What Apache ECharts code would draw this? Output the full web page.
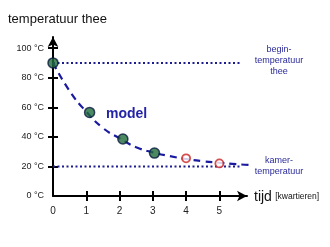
<!DOCTYPE html>
<html><head><meta charset="utf-8">
<script src="https://cdn.jsdelivr.net/npm/echarts@6/dist/echarts.min.js"></script>
<style>html,body{margin:0;padding:0;background:#fff}#c{width:330px;height:247px}</style>
</head><body><div id="c"></div>
<script>
const xTicks = [0, 1, 2, 3, 4, 5];
const yTicks = [0, 20, 40, 60, 80, 100];
const measured = [[0, 90], [1.1, 56.5], [2.1, 38.5], [3.05, 29]];
const predicted = [[4, 25.5], [5, 22]];
const modelCurve = [[0, 90], [0.5, 71], [1, 57], [1.5, 46], [2, 39], [2.5, 33], [3, 29.5], [3.5, 27], [4, 25], [4.5, 23.5], [5, 22.5], [5.5, 21.5], [5.97, 21]];
const beginTemp = [[0, 90], [5.65, 90]];
const roomTemp = [[0, 20], [5.65, 20]];

const chart = echarts.init(document.getElementById('c'));
const navy = '#1c1c8f';
const tickStyle = {color: '#000', width: 2};
chart.setOption({
  animation: false,
  grid: {left: 53, right: 83, top: 37, bottom: 51},
  xAxis: [
    {type: 'value', min: 0, max: 5.83, splitLine: {show: false},
      axisLine: {show: true, symbol: ['none', 'arrow'], symbolSize: [8, 10], lineStyle: {color: '#000', width: 2}},
      axisTick: {show: true, length: 5, lineStyle: tickStyle, customValues: [1, 2, 3, 4, 5]},
      axisLabel: {fontSize: 10, color: '#222', margin: 10, fontFamily: 'Liberation Sans', customValues: xTicks}
    },
    {type: 'value', min: 0, max: 5.83, position: 'bottom', splitLine: {show: false},
      axisLine: {show: false},
      axisTick: {show: true, inside: true, length: 5, lineStyle: tickStyle, customValues: [1, 2, 3, 4, 5]},
      axisLabel: {show: false}
    }
  ],
  yAxis: [
    {type: 'value', min: 0, max: 107.5, splitLine: {show: false},
      axisLine: {show: true, symbol: ['none', 'arrow'], symbolSize: [8, 10], lineStyle: {color: '#000', width: 2}},
      axisTick: {show: true, length: 5, lineStyle: tickStyle, customValues: [20, 40, 60, 80, 100]},
      axisLabel: {fontSize: 9, color: '#222', margin: 9, fontFamily: 'Liberation Sans', customValues: yTicks,
        formatter: v => v + ' °C'}
    },
    {type: 'value', min: 0, max: 107.5, position: 'left', splitLine: {show: false},
      axisLine: {show: false},
      axisTick: {show: true, inside: true, length: 5, lineStyle: tickStyle, customValues: [20, 40, 60, 80, 100]},
      axisLabel: {show: false}
    }
  ],
  graphic: [
    {type: 'text', x: 8, y: 13, style: {text: 'temperatuur thee', fontSize: 13, fill: '#111', fontFamily: 'Liberation Sans'}},
    {type: 'text', x: 279, y: 44, style: {text: 'begin-\ntemperatuur\nthee', fontSize: 9, lineHeight: 11, fill: '#2a2a9a', align: 'center', fontFamily: 'Liberation Sans'}},
    {type: 'text', x: 279, y: 155, style: {text: 'kamer-\ntemperatuur', fontSize: 9, lineHeight: 11, fill: '#2a2a9a', align: 'center', fontFamily: 'Liberation Sans'}},
    {type: 'text', x: 106, y: 107, style: {text: 'model', fontSize: 14, fontWeight: 'bold', fill: '#2323a8', fontFamily: 'Liberation Sans'}},
    {type: 'text', x: 254, y: 190, style: {rich: {a: {fontSize: 14, fill: '#111', fontFamily: 'Liberation Sans'}, b: {fontSize: 8.5, fill: '#111', fontFamily: 'Liberation Sans'}}, text: '{a|tijd} {b|[kwartieren]}'}}
  ],
  series: [
    {type: 'line', data: beginTemp, symbol: 'none', lineStyle: {color: navy, width: 2, type: [2, 2.5]}, clip: false, z: 1},
    {type: 'line', data: roomTemp, symbol: 'none', lineStyle: {color: navy, width: 2, type: [2, 2.5]}, clip: false, z: 1},
    {type: 'line', data: modelCurve, smooth: true, symbol: 'none', lineStyle: {color: '#1a1aa0', width: 2.2, type: [7, 5]}, clip: false, z: 2},
    {type: 'scatter', data: measured, symbolSize: 10, itemStyle: {color: '#1f6b3a', borderColor: '#0a1a40', borderWidth: 1.5}, clip: false, z: 5},
    {type: 'scatter', data: predicted, symbolSize: 8, itemStyle: {color: '#fff', borderColor: '#cc2020', borderWidth: 1.8}, clip: false, z: 5}
  ]
});
</script></body></html>
